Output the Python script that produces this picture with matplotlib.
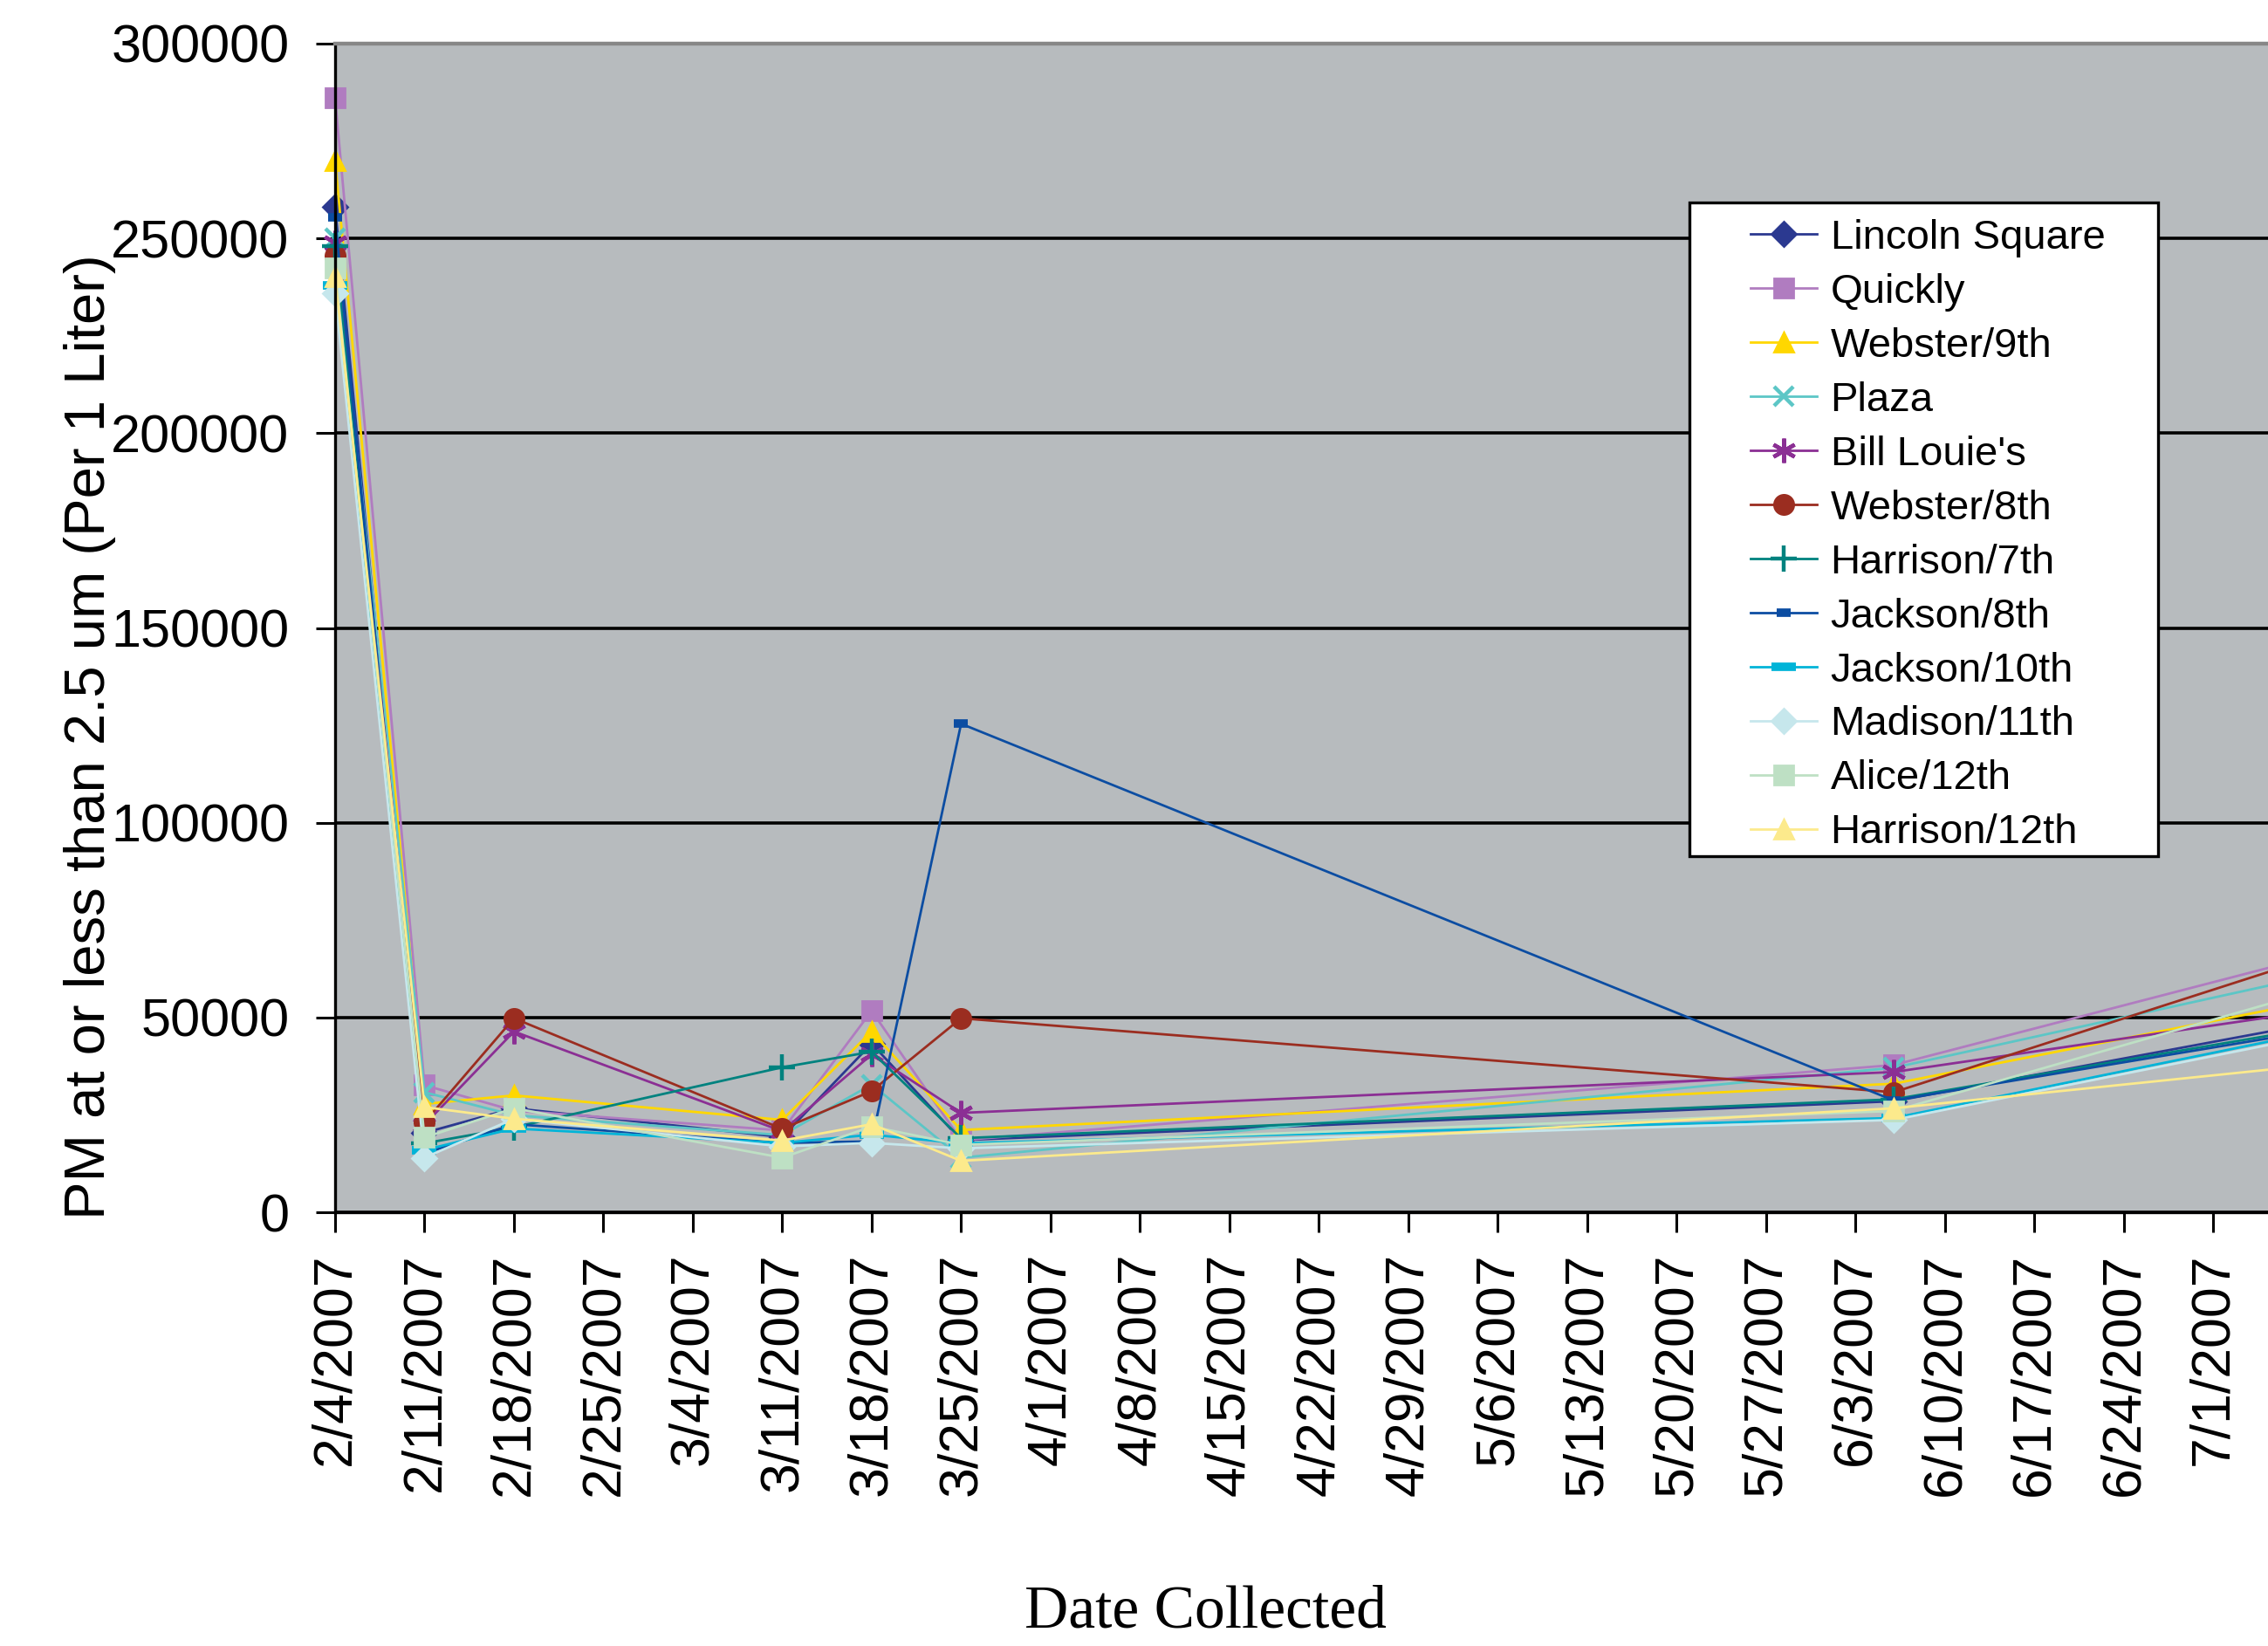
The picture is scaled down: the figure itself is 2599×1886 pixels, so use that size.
#PM 2.5 particle counts per site over the sampling dates
import numpy as np
import pandas as pd
import matplotlib
matplotlib.use("Agg")
import matplotlib.pyplot as plt
import matplotlib.dates as mdates
from matplotlib.patches import Rectangle

#data (particles per 1 liter), last date lies past the right edge of the picture
dates = ["2/4/2007","2/11/2007","2/18/2007","3/11/2007","3/18/2007","3/25/2007","6/6/2007","7/8/2007"]
sites = ["Lincoln Square","Quickly","Webster/9th","Plaza","Bill Louie's","Webster/8th",
         "Harrison/7th","Jackson/8th","Jackson/10th","Madison/11th","Alice/12th","Harrison/12th"]
lincoln_square = [258000,20400,26700,19300,43300,18500,28500,48000]
quickly        = [286000,32600,26100,21000,51700,18500,37800,65000]
webster_9th    = [270000,27800,30000,23700,46400,21100,33000,53600]
plaza          = [250000,30800,24900,19800,32800,14000,37100,60100]
bill_louies    = [249000,22500,46400,20800,40500,25500,36000,51300]
webster_8th    = [245500,23100,49800,21400,31100,49800,30800,64500]
harrison_7th   = [248000,17700,21800,37200,41200,19000,29000,46800]
jackson_8th    = [255500,15100,22600,17800,18200,125400,28700,46100]
jackson_10th   = [238000,16000,21500,17800,19900,17700,24200,45600]
madison_11th   = [236000,14000,24000,16900,17800,16400,23700,44700]
alice_12th     = [242500,19200,26700,14000,22000,17300,26000,56000]
harrison_12th  = [240200,27000,24000,18400,22600,13200,26700,37500]
values = [lincoln_square,quickly,webster_9th,plaza,bill_louies,webster_8th,
          harrison_7th,jackson_8th,jackson_10th,madison_11th,alice_12th,harrison_12th]

xtick_labels = ["2/4/2007","2/11/2007","2/18/2007","2/25/2007","3/4/2007","3/11/2007","3/18/2007",
                "3/25/2007","4/1/2007","4/8/2007","4/15/2007","4/22/2007","4/29/2007","5/6/2007",
                "5/13/2007","5/20/2007","5/27/2007","6/3/2007","6/10/2007","6/17/2007","6/24/2007","7/1/2007"]
yticks = [0,50000,100000,150000,200000,250000,300000]

#styles
colors = ["#2B3990","#B07CC0","#FFD700","#5CC6C6","#8B2F94","#9B2D20",
          "#00827F","#0C4DA2","#00B4D8","#C6E7EC","#BEE0C4","#FCEA8C"]
markers = ["D","s","^","x",(6,2,0),"o","+","_","_","D","s","^"]
msizes = [7,8,8,8,10,8,11,6,10,7,8,8]
mews = [1,1,1,1.6,1.6,1,1.6,3.5,3.5,1,1,1]

plt.rcParams["font.family"] = ["Liberation Sans","DejaVu Sans"]

W,H = 2599,1886
fig = plt.figure(figsize=(W/200,H/200),dpi=200)
ax = fig.add_axes([384/W,1-1389/H,1-384/W,(1389-50)/H])
ax.set_facecolor("#B7BBBE")

x = pd.to_datetime(dates,format="%m/%d/%Y")
for i in range(len(sites)):
    ax.plot(x,values[i],color=colors[i],marker=markers[i],markersize=msizes[i],
            markeredgewidth=mews[i],markeredgecolor=colors[i],linewidth=1.0,
            label=sites[i],clip_on=False)

#axes
start = mdates.date2num(pd.Timestamp("2007-02-04"))
ax.set_xlim(start,start+151.3)
ax.set_ylim(0,300000)
ax.set_yticks(yticks)
ax.set_yticklabels([str(v) for v in yticks],fontsize=22)
xt = pd.to_datetime(xtick_labels,format="%m/%d/%Y")
ax.set_xticks(xt)
ax.set_xticklabels(xtick_labels,rotation=90,fontsize=22.5)
ax.tick_params(axis="y",direction="out",length=7.9,width=1.1,pad=11)
ax.tick_params(axis="x",direction="out",length=8.3,width=1.1,pad=8.5)
ax.grid(axis="y",color="black",linewidth=1.3)
ax.set_axisbelow(True)
for s in ["left","bottom"]:
    ax.spines[s].set_color("black")
    ax.spines[s].set_linewidth(1.2)
ax.spines["top"].set_color("#878787")
ax.spines["top"].set_linewidth(1.6)
ax.spines["right"].set_visible(False)

fig.text(103/W,1-844/H,"PM at or less than 2.5 um (Per 1 Liter)",rotation=90,
         ha="center",va="center",fontsize=23.5)
fig.text(1381/W,1-1848/H,"Date Collected",ha="center",va="center",
         fontsize=25,family="Liberation Serif")

#legend with white box
fig.patches.append(Rectangle((1936/W,1-981/H),(2473-1936)/W,(981-232)/H,transform=fig.transFigure,
                             facecolor="white",edgecolor="black",linewidth=1.2,zorder=2))
h,l = ax.get_legend_handles_labels()
fig.legend(h,l,loc="upper left",bbox_to_anchor=(2006/W,1-251/H),frameon=False,fontsize=17,
           borderpad=0,handlelength=1.6,handletextpad=0.34,labelspacing=0.38,borderaxespad=0)

fig.savefig("out.png",dpi=200,facecolor="white")
